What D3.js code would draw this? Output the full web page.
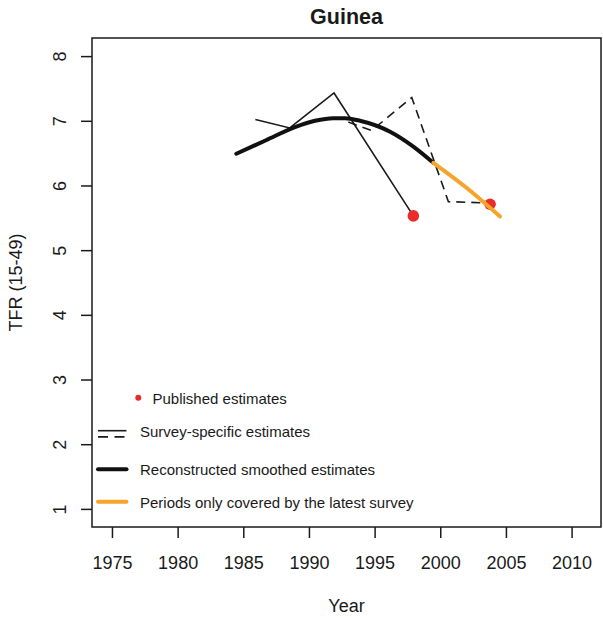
<!DOCTYPE html>
<html>
<head>
<meta charset="utf-8">
<script src="https://cdn.jsdelivr.net/npm/d3@7"></script>
<style>
  html, body { margin: 0; padding: 0; background: #fff; }
  svg { display: block; }
  text { font-family: "Liberation Sans", Arial, sans-serif; fill: #1a1a1a; }
</style>
</head>
<body>
<svg id="chart" width="603" height="618"></svg>
<script>
// Guinea: total fertility rate (15-49) by year
const title = "Guinea";
const xTicks = [1975, 1980, 1985, 1990, 1995, 2000, 2005, 2010];
const yTicks = [1, 2, 3, 4, 5, 6, 7, 8];

// Survey-specific estimates (earlier survey, solid)
const surveyAYears  = [1985.92, 1988.54, 1991.91, 1997.95];
const surveyAValues = [7.02, 6.89, 7.43, 5.53];

// Survey-specific estimates (latest survey, dashed)
const surveyBYears  = [1993.0, 1994.78, 1997.83, 2000.62, 2003.6];
const surveyBValues = [6.98, 6.85, 7.36, 5.75, 5.73];

// Reconstructed smoothed estimates
const smoothYears  = [1984.47, 1986.73, 1989.04, 1990.46, 1991.86, 1992.75, 1993.89, 1996.18, 1997.95, 1999.47];
const smoothValues = [6.49, 6.70, 6.91, 7.00, 7.04, 7.04, 7.00, 6.83, 6.60, 6.35];

// Periods only covered by the latest survey
const latestYears  = [1999.47, 2002.02, 2004.55];
const latestValues = [6.35, 5.96, 5.52];

// Published estimates
const publishedYears  = [1997.95, 2003.79];
const publishedValues = [5.53, 5.71];

const legendLabels = [
  "Published estimates",
  "Survey-specific estimates",
  "Reconstructed smoothed estimates",
  "Periods only covered by the latest survey"
];

const svg = d3.select("#chart");
const box = { left: 92, right: 601, top: 38, bottom: 527 };

const x = d3.scaleLinear().domain([1973.48, 2012.24]).range([box.left, box.right]);
const y = d3.scaleLinear().domain([0.72, 8.28]).range([box.bottom, box.top]);

const ORANGE = "#f7a42a";
const RED = "#ea2b2b";
const AXIS_FONT = 18;
const LEGEND_FONT = 15;

// Axes
const xAxis = svg.append("g")
  .attr("transform", `translate(0,${box.bottom})`)
  .call(d3.axisBottom(x).tickValues(xTicks).tickFormat(d3.format("d")).tickSize(11));
xAxis.select(".domain").remove();
xAxis.selectAll("line").attr("stroke", "#1a1a1a").attr("stroke-width", 1.5);
xAxis.selectAll("text").attr("font-size", AXIS_FONT).attr("dy", null).attr("y", 42);

const yAxis = svg.append("g")
  .attr("transform", `translate(${box.left},0)`)
  .call(d3.axisLeft(y).tickValues(yTicks).tickFormat(d3.format("d")).tickSize(11));
yAxis.select(".domain").remove();
yAxis.selectAll("line").attr("stroke", "#1a1a1a").attr("stroke-width", 1.5);
yAxis.selectAll("text")
  .attr("font-size", AXIS_FONT)
  .attr("x", null).attr("dy", null)
  .attr("text-anchor", "middle")
  .attr("transform", "translate(-26,0) rotate(-90)")
  .attr("y", 0);

// Plot frame
svg.append("rect")
  .attr("x", box.left).attr("y", box.top)
  .attr("width", box.right - box.left).attr("height", box.bottom - box.top)
  .attr("fill", "none").attr("stroke", "#1a1a1a").attr("stroke-width", 1.5);

// Titles
svg.append("text").attr("x", (box.left + box.right) / 2).attr("y", 24)
  .attr("text-anchor", "middle").attr("font-size", 21.5).attr("font-weight", "bold")
  .text(title);
svg.append("text").attr("x", (box.left + box.right) / 2).attr("y", 611.5)
  .attr("text-anchor", "middle").attr("font-size", AXIS_FONT).text("Year");
svg.append("text")
  .attr("transform", `translate(22,${(box.top + box.bottom) / 2}) rotate(-90)`)
  .attr("text-anchor", "middle").attr("font-size", AXIS_FONT).text("TFR (15-49)");

// Series
const zip = (xs, ys) => xs.map((d, i) => [d, ys[i]]);
const straight = d3.line().x(d => x(d[0])).y(d => y(d[1]));
const smooth = d3.line().x(d => x(d[0])).y(d => y(d[1])).curve(d3.curveMonotoneX);

const plot = svg.append("g");

plot.append("path").datum(zip(surveyAYears, surveyAValues))
  .attr("d", straight).attr("fill", "none")
  .attr("stroke", "#1a1a1a").attr("stroke-width", 1.6);

plot.append("path").datum(zip(surveyBYears, surveyBValues))
  .attr("d", straight).attr("fill", "none")
  .attr("stroke", "#1a1a1a").attr("stroke-width", 1.6).attr("stroke-dasharray", "9,6");

plot.selectAll("circle.pub").data(zip(publishedYears, publishedValues)).join("circle")
  .attr("class", "pub")
  .attr("cx", d => x(d[0])).attr("cy", d => y(d[1])).attr("r", 5.8).attr("fill", RED);

plot.append("path").datum(zip(smoothYears, smoothValues))
  .attr("d", smooth).attr("fill", "none")
  .attr("stroke", "#111").attr("stroke-width", 4).attr("stroke-linecap", "round");

plot.append("path").datum(zip(latestYears, latestValues))
  .attr("d", smooth).attr("fill", "none")
  .attr("stroke", ORANGE).attr("stroke-width", 4).attr("stroke-linecap", "round");

// Legend
const lg = svg.append("g");
const lx0 = 98, lx1 = 126.5, tx = 140;
const textY = [404, 436.7, 475.3, 508.3];

lg.append("circle").attr("cx", 138.3).attr("cy", 397.7).attr("r", 3).attr("fill", RED);
lg.append("text").attr("x", 152.5).attr("y", textY[0]).attr("font-size", LEGEND_FONT).text(legendLabels[0]);

lg.append("line").attr("x1", lx0).attr("x2", lx1).attr("y1", 430.7).attr("y2", 430.7)
  .attr("stroke", "#1a1a1a").attr("stroke-width", 1.6);
lg.append("line").attr("x1", lx0).attr("x2", lx1).attr("y1", 436.9).attr("y2", 436.9)
  .attr("stroke", "#1a1a1a").attr("stroke-width", 1.6).attr("stroke-dasharray", "10,6.5");
lg.append("text").attr("x", tx).attr("y", textY[1]).attr("font-size", LEGEND_FONT).text(legendLabels[1]);

lg.append("line").attr("x1", lx0).attr("x2", lx1).attr("y1", 469.3).attr("y2", 469.3)
  .attr("stroke", "#111").attr("stroke-width", 4).attr("stroke-linecap", "round");
lg.append("text").attr("x", tx).attr("y", textY[2]).attr("font-size", LEGEND_FONT).text(legendLabels[2]);

lg.append("line").attr("x1", lx0).attr("x2", lx1).attr("y1", 501.7).attr("y2", 501.7)
  .attr("stroke", ORANGE).attr("stroke-width", 4).attr("stroke-linecap", "round");
lg.append("text").attr("x", tx).attr("y", textY[3]).attr("font-size", LEGEND_FONT).text(legendLabels[3]);
</script>
</body>
</html>
